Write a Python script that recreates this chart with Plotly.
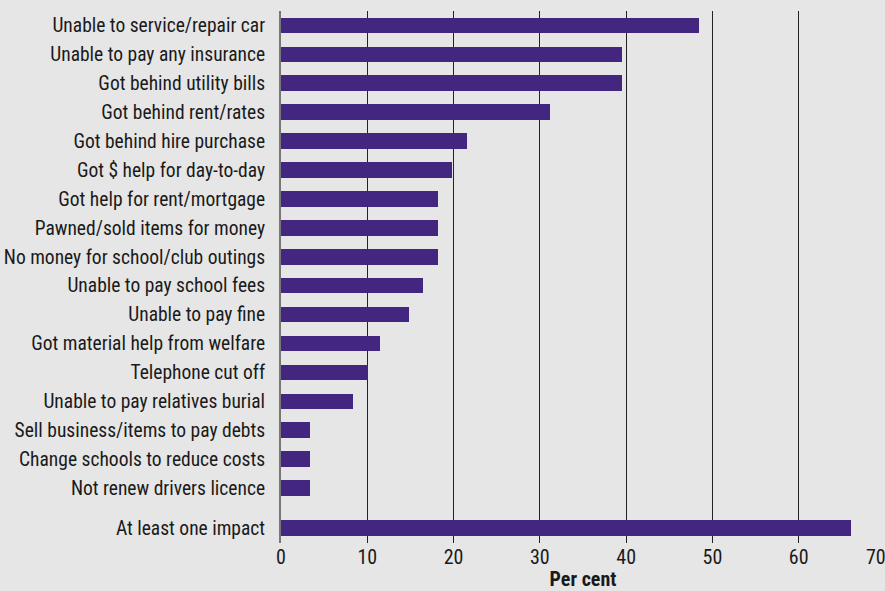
import plotly.graph_objects as go

categories = [
    "Unable to service/repair car",
    "Unable to pay any insurance",
    "Got behind utility bills",
    "Got behind rent/rates",
    "Got behind hire purchase",
    "Got $ help for day-to-day",
    "Got help for rent/mortgage",
    "Pawned/sold items for money",
    "No money for school/club outings",
    "Unable to pay school fees",
    "Unable to pay fine",
    "Got material help from welfare",
    "Telephone cut off",
    "Unable to pay relatives burial",
    "Sell business/items to pay debts",
    "Change schools to reduce costs",
    "Not renew drivers licence",
    "At least one impact",
]
values = [48.4, 39.5, 39.5, 31.2, 21.5, 19.8, 18.2, 18.2, 18.2, 16.5, 14.8,
          11.5, 10.1, 8.4, 3.4, 3.4, 3.4, 66.1]
x_ticks = [0, 10, 20, 30, 40, 50, 60, 70]

# row positions: evenly spaced, with an extra gap before the summary row
positions = list(range(len(categories) - 1)) + [len(categories) - 1 + 0.38]

# last tick label padded so that it sits mostly inside the page edge
x_ticktext = [str(v) for v in x_ticks]
x_ticktext[-1] = x_ticktext[-1] + "\u00a0" * 4

FONT = "Roboto Condensed, Liberation Sans Narrow, sans-serif"

fig = go.Figure(go.Bar(
    x=values, y=positions, orientation="h",
    width=0.54,
    marker=dict(color="#432680", line=dict(width=0)),
    hoverinfo="x+text", text=categories, textposition="none",
))

fig.update_layout(
    template="none",
    width=885, height=591,
    margin=dict(l=281, r=0, t=11, b=48, autoexpand=False),
    paper_bgcolor="#e6e6e6", plot_bgcolor="#e6e6e6",
    font=dict(family=FONT, size=19.5, color="#1a1a1a"),
    showlegend=False,
    bargap=0,
)
fig.update_xaxes(
    range=[0, 70], tickvals=x_ticks, ticktext=x_ticktext, showgrid=True,
    gridcolor="#222222", gridwidth=1, zeroline=False, showline=False,
    ticks="", automargin=False, ticklabeloverflow="allow",
    title=dict(text="<b>Per cent</b>", standoff=20, font=dict(size=20)),
    tickfont=dict(size=20),
)
fig.update_yaxes(
    range=[17.9, -0.5], tickvals=positions, ticktext=categories,
    showgrid=False, zeroline=False, showline=True, linecolor="#777777",
    linewidth=2, ticks="outside", ticklen=10, tickcolor="rgba(0,0,0,0)",
    tickfont=dict(size=19.5), automargin=False,
)

fig.write_html("out.html", config={"displayModeBar": False},
               post_script="document.body.style.margin='0';")
